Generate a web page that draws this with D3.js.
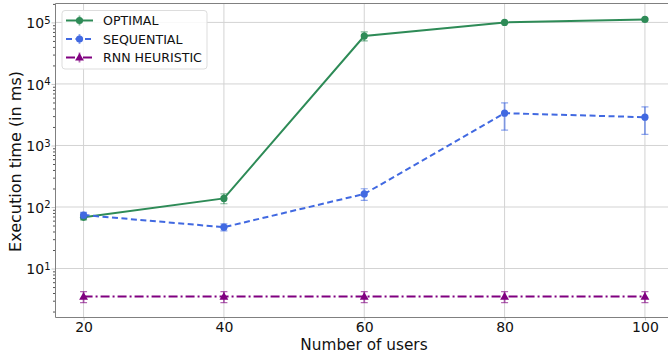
<!DOCTYPE html>
<html>
<head>
<meta charset="utf-8">
<script src="https://cdn.jsdelivr.net/npm/d3@7"></script>
<style>
  html, body { margin: 0; padding: 0; background: #fff; }
  svg { display: block; font-family: "DejaVu Sans", sans-serif; }
</style>
</head>
<body>
<svg id="chart" width="668" height="358"></svg>
<script>
// Number of users on the x axis
const users = [20, 40, 60, 80, 100];
const xTicks = [20, 40, 60, 80, 100];

// Mean execution time (ms) and its spread for each method
const optimalMean = [68, 138, 60000, 100000, 112000];
const optimalErr  = [6, 25, 10000, 3000, 3000];
const sequentialMean = [74, 47, 163, 3350, 2880];
const sequentialErr  = [8, 6, 35, 1580, 1370];
const rnnMean = [3.5, 3.5, 3.5, 3.5, 3.5];
const rnnErr  = [0.7, 0.7, 0.7, 0.7, 0.7];

const yTicks = [10, 100, 1000, 10000, 100000];
const yTickExp = ["1", "2", "3", "4", "5"];

const series = [
  { name: "OPTIMAL", mean: optimalMean, err: optimalErr, color: "#2e8b57", dash: null, marker: "circle" },
  { name: "SEQUENTIAL", mean: sequentialMean, err: sequentialErr, color: "#4169e1", dash: "6,3.5", marker: "circle" },
  { name: "RNN HEURISTIC", mean: rnnMean, err: rnnErr, color: "#800080", dash: "9,3,2,3", marker: "triangle" }
];

const svg = d3.select("#chart");
const plot = { left: 55.5, top: 3.5, right: 673, bottom: 317.5 };
const tickFont = 14;

const x = d3.scaleLinear().domain([16, 104]).range([plot.left, plot.right]);
const y = d3.scaleLog().domain([1.6, 203000]).range([plot.bottom, plot.top]);

svg.append("defs").append("clipPath").attr("id", "clip")
  .append("rect").attr("x", plot.left).attr("y", plot.top)
  .attr("width", plot.right - plot.left).attr("height", plot.bottom - plot.top);

// grid lines
const grid = svg.append("g");
grid.selectAll(".gx").data(xTicks).join("line")
  .attr("x1", d => x(d)).attr("x2", d => x(d))
  .attr("y1", plot.top).attr("y2", plot.bottom)
  .attr("stroke", "#d3d3d3").attr("stroke-width", 1);
grid.selectAll(".gy").data(yTicks).join("line")
  .attr("x1", plot.left).attr("x2", plot.right)
  .attr("y1", d => y(d)).attr("y2", d => y(d))
  .attr("stroke", "#d3d3d3").attr("stroke-width", 1);

// x axis
const xAxis = d3.axisBottom(x).tickValues(xTicks).tickSize(3).tickPadding(2);
const gx = svg.append("g").attr("transform", `translate(0,${plot.bottom})`).call(xAxis);
gx.select(".domain").remove();
gx.selectAll(".tick line").attr("stroke", "#c8c8c8");
gx.selectAll(".tick text").attr("font-size", tickFont).attr("fill", "#111")
  .attr("font-family", "DejaVu Sans, sans-serif");

// y axis: minor ticks at 2..9 x 10^n
const minorTicks = [];
[1, 10, 100, 1000, 10000, 100000].forEach(b => {
  for (let k = 2; k <= 9; k++) {
    const v = b * k;
    if (v >= 1.6 && v <= 203000) minorTicks.push(v);
  }
});
const yMinor = d3.axisLeft(y).tickValues(minorTicks).tickSize(2.5).tickFormat("");
const gyMinor = svg.append("g").attr("transform", `translate(${plot.left},0)`).call(yMinor);
gyMinor.select(".domain").remove();
gyMinor.selectAll(".tick line").attr("stroke", "#555");

const yAxis = d3.axisLeft(y).tickValues(yTicks).tickSize(4).tickFormat("");
const gy = svg.append("g").attr("transform", `translate(${plot.left},0)`).call(yAxis);
gy.select(".domain").remove();
gy.selectAll(".tick line").attr("stroke", "#c8c8c8");
gy.selectAll(".tick").each(function(d, i) {
  const t = d3.select(this).append("text")
    .attr("x", -5).attr("y", 0).attr("dy", "0.38em")
    .attr("text-anchor", "end").attr("fill", "#111")
    .attr("font-size", tickFont).attr("font-family", "DejaVu Sans, sans-serif");
  t.append("tspan").text("10");
  t.append("tspan").attr("dy", "-0.45em").attr("font-size", 10).text(yTickExp[i]);
});

// spines
const spine = svg.append("g").attr("fill", "none").attr("stroke", "#808080").attr("stroke-width", 1);
spine.append("line").attr("x1", plot.left).attr("x2", plot.left).attr("y1", plot.top).attr("y2", plot.bottom);
spine.append("line").attr("x1", plot.left).attr("x2", plot.right).attr("y1", plot.bottom).attr("y2", plot.bottom);
spine.append("line").attr("x1", plot.left).attr("x2", plot.right).attr("y1", plot.top).attr("y2", plot.top);

// series: error bars, connecting line, markers
const marks = svg.append("g").attr("clip-path", "url(#clip)");
const line = d3.line().x(d => x(d[0])).y(d => y(d[1]));
const tri = d3.symbol().type(d3.symbolTriangle).size(34);

series.forEach(s => {
  const g = marks.append("g");
  const pts = users.map((u, i) => [u, s.mean[i], s.err[i]]);
  const eb = g.append("g").attr("stroke", s.color).attr("stroke-opacity", 0.6).attr("stroke-width", 1.8);
  pts.forEach(p => {
    const lo = y(Math.max(p[1] - p[2], 1e-3)), hi = y(p[1] + p[2]), cx = x(p[0]);
    eb.append("line").attr("x1", cx).attr("x2", cx).attr("y1", lo).attr("y2", hi);
    eb.append("line").attr("x1", cx - 3.5).attr("x2", cx + 3.5).attr("y1", lo).attr("y2", lo).attr("stroke-width", 1.2);
    eb.append("line").attr("x1", cx - 3.5).attr("x2", cx + 3.5).attr("y1", hi).attr("y2", hi).attr("stroke-width", 1.2);
  });
  g.append("path").datum(pts).attr("d", line)
    .attr("fill", "none").attr("stroke", s.color).attr("stroke-width", 2)
    .attr("stroke-dasharray", s.dash);
  pts.forEach(p => {
    if (s.marker === "circle") {
      g.append("circle").attr("cx", x(p[0])).attr("cy", y(p[1])).attr("r", 3.6).attr("fill", s.color);
    } else {
      g.append("path").attr("d", tri).attr("transform", `translate(${x(p[0])},${y(p[1]) + 0.5})`).attr("fill", s.color);
    }
  });
});

// axis titles
svg.append("text").attr("x", 364).attr("y", 350)
  .attr("text-anchor", "middle").attr("font-size", 15.3).attr("fill", "#111")
  .text("Number of users");
svg.append("text").attr("transform", `translate(21,161.5) rotate(-90)`)
  .attr("text-anchor", "middle").attr("font-size", 16).attr("fill", "#111")
  .text("Execution time (in ms)");

// legend
const lg = svg.append("g").attr("transform", "translate(62,10.5)");
lg.append("rect").attr("x", 0).attr("y", 0).attr("width", 145).attr("height", 58.5).attr("rx", 3)
  .attr("fill", "#fff").attr("fill-opacity", 0.85).attr("stroke", "#ddd");
series.forEach((s, i) => {
  const ly = 10 + i * 18.5;
  const e = lg.append("g");
  e.append("line").attr("x1", 4).attr("x2", 31).attr("y1", ly).attr("y2", ly)
    .attr("stroke", s.color).attr("stroke-width", 2).attr("stroke-dasharray", s.dash);
  e.append("line").attr("x1", 17.5).attr("x2", 17.5).attr("y1", ly - 5).attr("y2", ly + 5)
    .attr("stroke", s.color).attr("stroke-opacity", 0.6).attr("stroke-width", 1.8);
  if (s.marker === "circle") {
    e.append("circle").attr("cx", 17.5).attr("cy", ly).attr("r", 3.6).attr("fill", s.color);
  } else {
    e.append("path").attr("d", tri).attr("transform", `translate(17.5,${ly + 0.5})`).attr("fill", s.color);
  }
  e.append("text").attr("x", 41).attr("y", ly).attr("dy", "0.36em")
    .attr("font-size", 12.6).attr("fill", "#111").text(s.name);
});
</script>
</body>
</html>
